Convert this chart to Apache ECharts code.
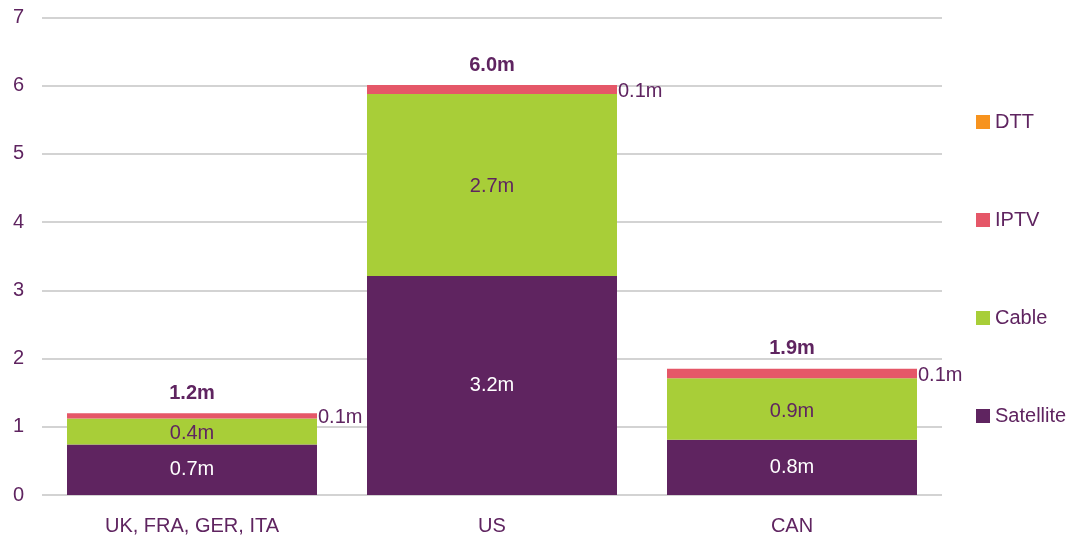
<!DOCTYPE html>
<html>
<head>
<meta charset="utf-8">
<script src="https://cdn.jsdelivr.net/npm/echarts@6/dist/echarts.min.js"></script>
<style>
  html, body { margin: 0; padding: 0; background: #fff; }
  #chart { width: 1071px; height: 536px; }
</style>
</head>
<body>
<div id="chart"></div>
<script>
// Pay-TV subscribers by platform (millions)
const categories = ['UK, FRA, GER, ITA', 'US', 'CAN'];
const satellite = [0.74, 3.21, 0.81];
const cable = [0.38, 2.67, 0.90];
const iptv = [0.08, 0.13, 0.14];
const dtt = [0, 0, 0];
const yTicks = [0, 1, 2, 3, 4, 5, 6, 7];

const purple = '#5F2460';
const font = 'Liberation Sans, Arial, sans-serif';

function fmt(v) {
  return (Math.round(v * 10 + 1e-9) / 10).toFixed(1) + 'm';
}
const totals = categories.map((_, i) => satellite[i] + cable[i] + iptv[i] + dtt[i]);

const chart = echarts.init(document.getElementById('chart'));
chart.setOption({
  animation: false,
  textStyle: { fontFamily: font },
  grid: { left: 42, right: 129, top: 17.5, bottom: 39.5 },
  legend: {
    orient: 'vertical',
    left: 976,
    top: 112,
    padding: 0,
    itemWidth: 14,
    itemHeight: 14,
    itemGap: 78,
    icon: 'rect',
    data: ['DTT', 'IPTV', 'Cable', 'Satellite'],
    textStyle: { color: purple, fontSize: 20, fontFamily: font }
  },
  xAxis: {
    type: 'category',
    data: categories,
    axisLine: { show: false },
    axisTick: { show: false },
    axisLabel: { color: purple, fontSize: 20, fontFamily: font, margin: 21 }
  },
  yAxis: {
    type: 'value',
    min: yTicks[0],
    max: yTicks[yTicks.length - 1],
    interval: 1,
    axisLine: { show: false },
    axisTick: { show: false },
    axisLabel: { color: purple, fontSize: 20, fontFamily: font, margin: 18 },
    splitLine: { lineStyle: { color: '#d3d3d3', width: 2 } }
  },
  series: [
    {
      name: 'Satellite', type: 'bar', stack: 'tv', data: satellite,
      barWidth: 250,
      itemStyle: { color: '#5F2460' },
      label: { show: true, position: 'inside', color: '#fff', fontSize: 20, fontFamily: font,
        formatter: p => fmt(p.value) }
    },
    {
      name: 'Cable', type: 'bar', stack: 'tv', data: cable,
      barWidth: 250,
      itemStyle: { color: '#A8CE38' },
      label: { show: true, position: 'inside', color: purple, fontSize: 20, fontFamily: font,
        offset: [0, 2], formatter: p => fmt(p.value) }
    },
    {
      name: 'IPTV', type: 'bar', stack: 'tv', data: iptv,
      barWidth: 250,
      itemStyle: { color: '#E55768' },
      label: { show: true, position: 'right', distance: 1, offset: [0, 2], color: purple,
        fontSize: 20, fontFamily: font, formatter: p => fmt(p.value) }
    },
    {
      name: 'DTT', type: 'bar', stack: 'tv', data: dtt,
      barWidth: 250,
      itemStyle: { color: '#F7931E' },
      label: { show: true, position: 'top', distance: 10, color: purple, fontSize: 20,
        fontWeight: 'bold', fontFamily: font,
        formatter: p => fmt(totals[p.dataIndex]) }
    }
  ]
});
</script>
</body>
</html>
